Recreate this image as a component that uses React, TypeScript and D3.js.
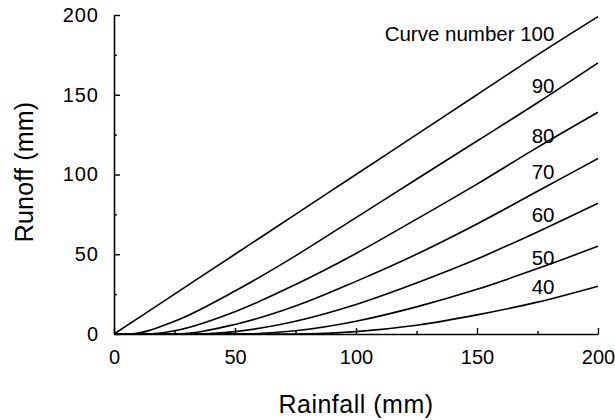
import { useEffect, useRef } from 'react';
import * as d3 from 'd3';

// rainfall values (mm) where each curve was read
const rainfall = [0, 25, 50, 75, 100, 125, 150, 175, 200];

// runoff (mm), one list per curve number
const cn100 = [0, 25, 50, 75, 100, 125, 150, 175, 199];
const cn90 = [0, 8, 27, 49, 73, 97, 121, 145, 170];
const cn80 = [0, 2, 14, 31, 50.5, 72, 94, 117, 139];
const cn70 = [0, 0, 6, 17.5, 33, 50, 69, 89.5, 110];
const cn60 = [0, 0, 1.5, 8, 18.5, 32, 47, 64, 82];
const cn50 = [0, 0, 0, 2, 8, 17, 28, 41, 55];
const cn40 = [0, 0, 0, 0, 1.5, 5.5, 12, 20, 30];

// rainfall where each curve leaves the x axis
const startPoints = [0, 6, 13, 22, 34, 51, 76];

const curveNames = ['100', '90', '80', '70', '60', '50', '40'];
const labelText = ['Curve number 100', '90', '80', '70', '60', '50', '40'];
// label anchor (text end): rainfall / runoff
const labelAt: [number, number][] = [
  [182, 184], [182, 151], [182, 120], [182, 97], [182, 70], [182, 43], [182, 25],
];

const majorTicks = [0, 50, 100, 150, 200];
const minorTicks = [25, 75, 125, 175];

const width = 615;
const height = 420;
const font = '"Liberation Sans", Arial, Helvetica, sans-serif';

const App = () => {
  const svgRef = useRef<SVGSVGElement | null>(null);

  useEffect(() => {
    const svg = d3.select(svgRef.current);
    svg.selectAll('*').remove();

    const x = d3.scaleLinear().domain([0, 200]).range([114, 598]);
    const y = d3.scaleLinear().domain([0, 200]).range([334, 15]);

    const series = [cn100, cn90, cn80, cn70, cn60, cn50, cn40];

    // flat along the axis until the start point, then the read values
    const lines = series.map((vals, i) => {
      const pts: [number, number][] = [[0, 0]];
      if (startPoints[i] > 0) pts.push([startPoints[i], 0]);
      rainfall.forEach((r, j) => {
        if (r > startPoints[i]) pts.push([r, vals[j]]);
      });
      return pts;
    });

    const line = d3.line<[number, number]>()
      .x((d) => x(d[0]))
      .y((d) => y(d[1]))
      .curve(d3.curveMonotoneX);

    svg.append('g')
      .selectAll('path')
      .data(lines)
      .enter()
      .append('path')
      .attr('d', (d) => line(d))
      .attr('fill', 'none')
      .attr('stroke', '#000')
      .attr('stroke-width', 1.6)
      .attr('data-cn', (_d, i) => curveNames[i]);

    // axes, ticks point inward
    const yAxis = svg.append('g')
      .attr('transform', 'translate(114,0)')
      .call(d3.axisLeft(y).tickValues(majorTicks).tickSize(-6).tickSizeOuter(0).tickPadding(15));
    svg.append('g')
      .attr('transform', 'translate(114,0)')
      .call(d3.axisLeft(y).tickValues(minorTicks).tickSize(-3).tickFormat(() => ''))
      .select('.domain').remove();

    const xAxis = svg.append('g')
      .attr('transform', 'translate(0,334)')
      .call(d3.axisBottom(x).tickValues(majorTicks).tickSize(-6).tickSizeOuter(0).tickPadding(16));
    svg.append('g')
      .attr('transform', 'translate(0,334)')
      .call(d3.axisBottom(x).tickValues(minorTicks).tickSize(-3).tickFormat(() => ''))
      .select('.domain').remove();

    yAxis.selectAll('text').attr('letter-spacing', 1);
    [yAxis, xAxis].forEach((g) => {
      g.selectAll('text')
        .attr('font-family', font)
        .attr('font-size', 20)
        .attr('fill', '#000');
    });
    svg.selectAll('.domain').attr('stroke-width', 1.6);
    svg.selectAll('.tick line').attr('stroke-width', 1.4);

    // curve labels
    svg.append('g')
      .selectAll('text')
      .data(labelText)
      .enter()
      .append('text')
      .attr('x', (_d, i) => x(labelAt[i][0]))
      .attr('y', (_d, i) => y(labelAt[i][1]))
      .attr('text-anchor', 'end')
      .attr('font-family', font)
      .attr('font-size', 20.5)
      .text((d) => d);

    // axis titles
    svg.append('text')
      .attr('x', 356)
      .attr('y', 413)
      .attr('text-anchor', 'middle')
      .attr('font-family', font)
      .attr('font-size', 25)
      .attr('letter-spacing', 0.5)
      .text('Rainfall (mm)');

    svg.append('text')
      .attr('transform', 'translate(33,172) rotate(-90)')
      .attr('text-anchor', 'middle')
      .attr('font-family', font)
      .attr('font-size', 25)
      .attr('letter-spacing', 0.2)
      .text('Runoff (mm)');
  }, []);

  return (
    <svg
      ref={svgRef}
      width={width}
      height={height}
      style={{ position: 'absolute', left: 0, top: 0, background: '#fff' }}
    />
  );
};

export default App;
